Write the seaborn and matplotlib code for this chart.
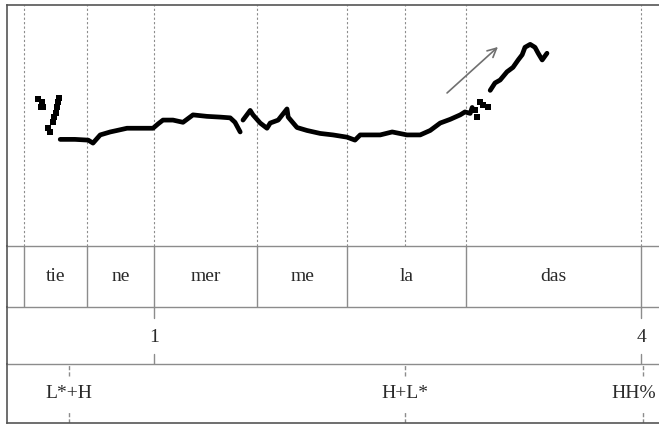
import matplotlib
matplotlib.use("Agg")
import matplotlib.pyplot as plt
import seaborn as sns
import pandas as pd

sns.set_theme(style="white")
plt.rcParams["font.family"] = ["Liberation Serif", "DejaVu Serif"]

# pitch track (time in s, F0 in Hz)
seg_a_t = [0.133, 0.170, 0.203, 0.215, 0.233, 0.258, 0.275, 0.300, 0.333, 0.365,
           0.378, 0.390, 0.415, 0.440, 0.465, 0.500, 0.533, 0.558, 0.570, 0.583]
seg_a_f0 = [219, 219, 218, 214, 225, 229, 231, 234, 234, 234,
            240, 245, 245, 242, 252, 250, 249, 248, 242, 229]

seg_b_t = [0.590, 0.608, 0.615, 0.633, 0.650, 0.658, 0.678, 0.700, 0.703, 0.725,
           0.750, 0.783, 0.815, 0.850, 0.870, 0.883, 0.933, 0.963, 1.000, 1.033,
           1.058, 1.083, 1.108, 1.133, 1.145, 1.158, 1.163]
seg_b_f0 = [245, 258, 252, 241, 234, 241, 245, 260, 249, 235,
            231, 227, 225, 222, 218, 225, 225, 229, 225, 225,
            231, 241, 246, 252, 256, 254, 262]

seg_c_t = [1.208, 1.220, 1.233, 1.250, 1.265, 1.278, 1.288, 1.295, 1.308, 1.320,
           1.328, 1.338, 1.350]
seg_c_f0 = [285, 295, 299, 310, 316, 326, 333, 343, 347, 343, 335, 326, 335]

# loose voiced frames
dots_t = [0.0775, 0.0875, 0.085, 0.090, 0.130, 0.1275, 0.125, 0.1225, 0.1175, 0.115,
          0.1025, 0.1075, 1.170, 1.175, 1.183, 1.190, 1.203]
dots_f0 = [273, 269, 262, 262, 275, 269, 262, 254, 249, 242,
           234, 229, 258, 249, 269, 265, 262]

# annotation tiers
syllables = ["tie", "ne", "mer", "me", "la", "das"]
syl_bounds = [0.043, 0.199, 0.368, 0.625, 0.851, 1.148, 1.586]
break_times = [0.368, 1.586]
break_labels = ["1", "4"]
tone_times = [0.155, 0.995, 1.590]
tone_labels = ["L*+H", "H+L*", "HH%"]
guide_times = [0.043, 0.199, 0.368, 0.625, 0.851, 0.995, 1.148, 1.586]

# rising arrow
arrow_from = (1.095, 279)
arrow_to = (1.2325, 346)

track = pd.concat([
    pd.DataFrame({"t": seg_a_t, "f0": seg_a_f0, "seg": "a"}),
    pd.DataFrame({"t": seg_b_t, "f0": seg_b_f0, "seg": "b"}),
    pd.DataFrame({"t": seg_c_t, "f0": seg_c_f0, "seg": "c"}),
])
dots = pd.DataFrame({"t": dots_t, "f0": dots_f0})

XMAX = 1.663
frame_col = "#555555"
tier_col = "#8c8c8c"
txt_col = "#2a2a2a"
fs = 14

fig = plt.figure(figsize=(6.59, 4.24), dpi=100)
gs = fig.add_gridspec(4, 1, height_ratios=[241, 61, 57, 58], hspace=0,
                      left=7 / 659, right=1.02, top=1 - 5 / 424, bottom=1.5 / 424)
ax = fig.add_subplot(gs[0])
ax1 = fig.add_subplot(gs[1], sharex=ax)
ax2 = fig.add_subplot(gs[2], sharex=ax)
ax3 = fig.add_subplot(gs[3], sharex=ax)

# pitch panel
for t in guide_times:
    ax.axvline(t, color="#8c8c8c", lw=0.8, ls=(0, (2, 2)), zorder=1)
sns.lineplot(data=track, x="t", y="f0", units="seg", estimator=None, sort=False,
             color="black", lw=3.4, ax=ax, zorder=3)
sns.scatterplot(data=dots, x="t", y="f0", marker="s", s=14, color="black",
                linewidth=0, ax=ax, zorder=3)
ax.annotate("", xy=arrow_to, xytext=arrow_from,
            arrowprops=dict(arrowstyle="->", color="#707070", lw=1.2,
                            mutation_scale=16))
ax.set_ylim(75, 400)

# syllable tier
for b in syl_bounds:
    ax1.axvline(b, color=tier_col, lw=1)
for i, s in enumerate(syllables):
    ax1.text((syl_bounds[i] + syl_bounds[i + 1]) / 2, 0.5, s, ha="center",
             va="center", fontsize=fs, color=txt_col)

# break index tier
for t, lab in zip(break_times, break_labels):
    ax2.axvline(t, ymin=0.82, ymax=1, color=tier_col, lw=1)
    ax2.axvline(t, ymin=0, ymax=0.19, color=tier_col, lw=1)
    ax2.text(t, 0.47, lab, ha="center", va="center", fontsize=fs, color=txt_col)

# tone tier; the last label sits a little left of its mark, as in the original
for i, (t, lab) in enumerate(zip(tone_times, tone_labels)):
    ax3.axvline(t, ymin=0.8, ymax=1, color=tier_col, lw=1, ls=(0, (3, 1.5)))
    ax3.axvline(t, ymin=0, ymax=0.2, color=tier_col, lw=1, ls=(0, (3, 1.5)))
    shift = -7 if i == len(tone_labels) - 1 else 0
    ax3.annotate(lab, (t, 0.5), xytext=(shift, 0), textcoords="offset points",
                 ha="center", va="center", fontsize=fs, color=txt_col)

for a in (ax, ax1, ax2, ax3):
    a.set_facecolor("none")
    a.set_xlim(0, XMAX)
    a.set_xticks([])
    a.set_yticks([])
    a.set_xlabel("")
    a.set_ylabel("")
    for side in a.spines:
        a.spines[side].set_visible(False)
    a.spines["left"].set_visible(True)
    a.spines["left"].set_color(frame_col)
    a.spines["left"].set_linewidth(1.2)
    a.spines["bottom"].set_visible(True)
    a.spines["bottom"].set_color(tier_col)
    a.spines["bottom"].set_linewidth(1)
for a in (ax1, ax2, ax3):
    a.set_ylim(0, 1)

ax.spines["top"].set_visible(True)
ax.spines["top"].set_color(frame_col)
ax.spines["top"].set_linewidth(1.2)
ax3.spines["bottom"].set_color(frame_col)
ax3.spines["bottom"].set_linewidth(1.2)

fig.savefig("out.png", dpi=100, facecolor="white")
